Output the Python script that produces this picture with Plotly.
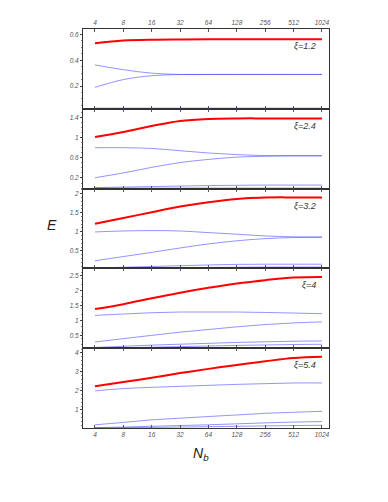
import plotly.graph_objects as go
from plotly.subplots import make_subplots

# system size (log2 axis)
NB = [4, 8, 16, 32, 64, 128, 256, 512, 1024]
XI_LABELS = ["ξ=1.2", "ξ=2.4", "ξ=3.2", "ξ=4", "ξ=5.4"]

# xi = 1.2
RED_1 = [0.533, 0.553, 0.560, 0.562, 0.563, 0.563, 0.563, 0.563, 0.563]
BLUE_1A = [0.364, 0.327, 0.300, 0.290, 0.290, 0.290, 0.290, 0.290, 0.290]
BLUE_1B = [0.190, 0.250, 0.280, 0.289, 0.290, 0.290, 0.290, 0.290, 0.290]
BLUE_1C = [0.028, 0.028, 0.028, 0.028, 0.028, 0.028, 0.028, 0.028, 0.028]

# xi = 2.4
RED_2 = [1.01, 1.11, 1.23, 1.33, 1.37, 1.38, 1.38, 1.38, 1.38]
BLUE_2A = [0.80, 0.80, 0.785, 0.74, 0.695, 0.663, 0.644, 0.64, 0.64]
BLUE_2B = [0.206, 0.30, 0.41, 0.505, 0.568, 0.613, 0.63, 0.64, 0.64]
BLUE_2C = [0.01, 0.02, 0.03, 0.04, 0.05, 0.055, 0.06, 0.06, 0.06]
BLUE_2D = [0.0, 0.0, 0.0, 0.0, 0.0, 0.0, 0.0, 0.0, 0.0]

# xi = 3.2
RED_3 = [1.21, 1.36, 1.51, 1.66, 1.775, 1.86, 1.896, 1.90, 1.90]
BLUE_3A = [0.995, 1.02, 1.03, 1.02, 0.977, 0.936, 0.89, 0.866, 0.859]
BLUE_3B = [0.24, 0.35, 0.46, 0.575, 0.68, 0.763, 0.82, 0.848, 0.859]
BLUE_3C = [0.05, 0.07, 0.09, 0.11, 0.13, 0.145, 0.15, 0.15, 0.15]
BLUE_3D = [0.045, 0.05, 0.055, 0.06, 0.065, 0.07, 0.075, 0.075, 0.075]

# xi = 4
RED_4 = [1.383, 1.547, 1.745, 1.929, 2.093, 2.238, 2.347, 2.436, 2.455]
BLUE_4A = [1.172, 1.218, 1.261, 1.284, 1.284, 1.284, 1.27, 1.25, 1.228]
BLUE_4B = [0.284, 0.396, 0.505, 0.613, 0.70, 0.79, 0.866, 0.92, 0.955]
BLUE_4C = [0.10, 0.14, 0.18, 0.21, 0.24, 0.27, 0.29, 0.31, 0.317]
BLUE_4D = [0.085, 0.095, 0.11, 0.13, 0.15, 0.17, 0.185, 0.20, 0.208]

# xi = 5.4
RED_5 = [2.243, 2.471, 2.695, 2.939, 3.162, 3.37, 3.562, 3.733, 3.80]
BLUE_5A = [2.004, 2.124, 2.191, 2.243, 2.295, 2.347, 2.383, 2.42, 2.42]
BLUE_5B = [0.218, 0.343, 0.478, 0.566, 0.654, 0.737, 0.824, 0.877, 0.929]
BLUE_5C = [0.07, 0.10, 0.14, 0.18, 0.22, 0.27, 0.32, 0.36, 0.39]
BLUE_5D = [0.06, 0.07, 0.08, 0.10, 0.12, 0.14, 0.16, 0.18, 0.19]

Y_TICKS = [
    [0.2, 0.4, 0.6],
    [0.2, 0.6, 1, 1.4],
    [0.5, 1, 1.5, 2],
    [0.5, 1, 1.5, 2, 2.5],
    [1, 2, 3, 4],
]
Y_TICKTEXT = [
    ["0.2", "0.4", "0.6"],
    ["0.2", "0.6", "1", "1.4"],
    ["0.5", "1", "1.5", "2"],
    ["0.5", "1", "1.5", "2", "2.5"],
    ["1", "2", "3", "4"],
]
Y_RANGES = [[0.023, 0.643], [-0.01, 1.57], [0.04, 2.13], [0.077, 2.74], [0.05, 4.25]]

PANELS = [
    (RED_1, [BLUE_1A, BLUE_1B, BLUE_1C]),
    (RED_2, [BLUE_2A, BLUE_2B, BLUE_2C, BLUE_2D]),
    (RED_3, [BLUE_3A, BLUE_3B, BLUE_3C, BLUE_3D]),
    (RED_4, [BLUE_4A, BLUE_4B, BLUE_4C, BLUE_4D]),
    (RED_5, [BLUE_5A, BLUE_5B, BLUE_5C, BLUE_5D]),
]

BLUE = "rgba(60,60,255,0.55)"
RED = "#ff0000"
TICK_FONT = dict(family="Liberation Sans", size=6.5, color="#555", style="italic")

fig = make_subplots(rows=5, cols=1, shared_xaxes=True, vertical_spacing=0)

for i, (red, blues) in enumerate(PANELS):
    row = i + 1
    for b in blues:
        fig.add_trace(
            go.Scatter(x=NB, y=b, mode="lines", line=dict(color=BLUE, width=1, shape="spline"),
                       showlegend=False, hoverinfo="skip"),
            row=row, col=1,
        )
    fig.add_trace(
        go.Scatter(x=NB, y=red, mode="lines", line=dict(color=RED, width=2, shape="spline"),
                   showlegend=False, hoverinfo="skip"),
        row=row, col=1,
    )
    fig.update_yaxes(
        range=Y_RANGES[i], tickvals=Y_TICKS[i], ticktext=Y_TICKTEXT[i],
        ticks="outside", ticklen=2, tickcolor="#444", tickfont=TICK_FONT,
        showline=True, mirror=True, linecolor="#333", linewidth=1,
        showgrid=False, zeroline=False,
        minor=dict(ticks="outside", ticklen=1, tickcolor="#888", nticks=5),
        row=row, col=1,
    )
    fig.update_xaxes(
        type="log", range=[0.475, 3.085], tickvals=NB, ticktext=[str(n) for n in NB],
        ticks="inside", ticklen=3, tickcolor="#555", tickfont=TICK_FONT,
        showline=True, mirror="ticks", linecolor="#333", linewidth=1,
        showgrid=False, zeroline=False, showticklabels=(row == 5),
        row=row, col=1,
    )
    fig.add_annotation(
        text=XI_LABELS[i], xref=f"x{'' if row == 1 else row} domain",
        yref=f"y{'' if row == 1 else row} domain", x=0.955, y=1, yshift=-17,
        xanchor="right", yanchor="middle", showarrow=False,
        font=dict(family="Liberation Sans", size=9, color="#333", style="italic"),
    )

# top axis labels on first panel
fig.update_xaxes(side="top", showticklabels=True, row=1, col=1)

fig.add_annotation(text="E", xref="paper", yref="paper", x=-0.125, y=0.51, showarrow=False,
                   xanchor="center", yanchor="middle",
                   font=dict(family="Liberation Sans", size=14, color="#222", style="italic"))
fig.add_annotation(text="N<sub>b</sub>", xref="paper", yref="paper", x=0.48, y=-0.037,
                   showarrow=False, xanchor="center", yanchor="top",
                   font=dict(family="Liberation Sans", size=14, color="#222", style="italic"))

fig.update_layout(
    width=388, height=502,
    margin=dict(l=75, r=67, t=11, b=82),
    plot_bgcolor="white", paper_bgcolor="white",
)

fig.write_html("out.html")
